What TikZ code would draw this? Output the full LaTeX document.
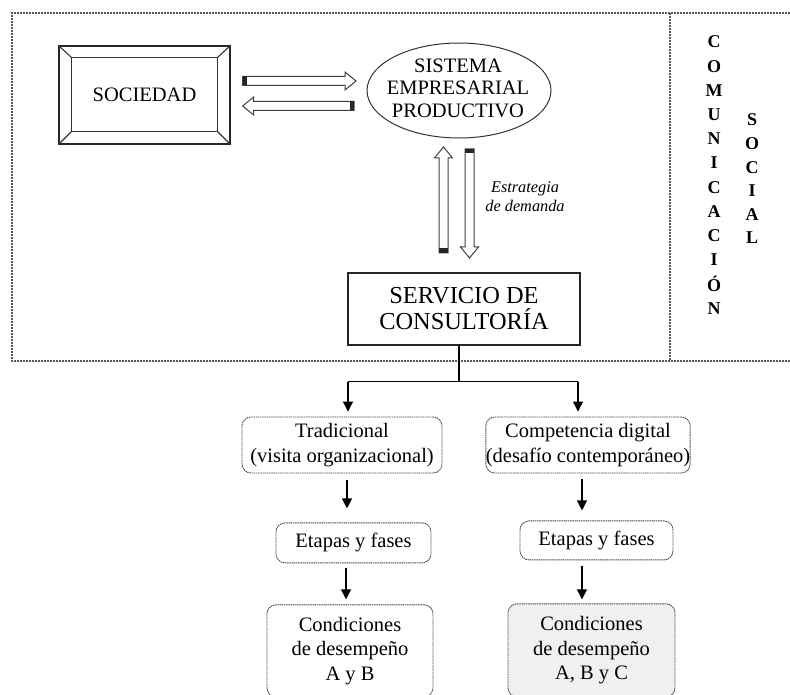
\documentclass[tikz,border=0pt]{standalone}
\usepackage{fontspec}
\setmainfont{Liberation Serif}
\usetikzlibrary{shapes,arrows.meta,positioning,calc}

% hollow block arrow with a black tail cap: #1 tail, #2 tip
\newcommand{\blockarrow}[2]{%
  \coordinate (hb) at ($(#2)!11pt!(#1)$);
  \coordinate (tc) at ($(#1)!4.5pt!(#2)$);
  \draw[blockline] ($(#1)!4.5pt!90:(#2)$) -- ($(hb)!4.5pt!90:(#2)$) -- ($(hb)!9pt!90:(#2)$) -- (#2)
    -- ($(hb)!9pt!-90:(#2)$) -- ($(hb)!4.5pt!-90:(#2)$) -- ($(#1)!4.5pt!-90:(#2)$) -- cycle;
  \fill[black!85] ($(#1)!4.5pt!90:(#2)$) -- ($(tc)!4.5pt!90:(#2)$) -- ($(tc)!4.5pt!-90:(#2)$) -- ($(#1)!4.5pt!-90:(#2)$) -- cycle;
}

\begin{document}
\begin{tikzpicture}[x=1pt, y=-1pt]

	\tikzset{
	frameline/.style={draw=black!65, line width=1.1pt, dash pattern=on 2pt off 1pt},
	plainbox/.style={draw=black!85, line width=1.3pt, align=center, inner sep=0pt},
	bevel/.style={draw=black!80, line width=1.1pt},
	blockline/.style={draw=black!75, line width=1pt, fill=white, line join=miter},
	dotbox/.style={draw=black!70, line width=0.9pt, dash pattern=on 1.5pt off 0.7pt, rounded corners=9pt, align=center, inner sep=0pt, font=\fontsize{20.5}{24.5}\selectfont},
	vletter/.style={font=\fontsize{18}{18}\selectfont\bfseries, inner sep=0pt},
	tri/.style={line width=1.1pt, -{Triangle[length=10pt,width=10pt]}}
	}

	\useasboundingbox (0,0) rectangle (790,695);

	% Frame
	\draw[frameline] (790,13) -- (12,13) -- (12,361) -- (790,361);
	\draw[frameline] (670,13) -- (670,361);

	% Nodes
	\node[plainbox, minimum width=171pt, minimum height=98pt, font=\fontsize{20.5}{24}\selectfont] (sociedad) at (144.5,95) {SOCIEDAD};
	\draw[bevel] ($(sociedad.north west)+(13,12)$) rectangle ($(sociedad.south east)+(-13,-13)$);
	\foreach \c/\dx/\dy in {north west/13/12, north east/-13/12, south east/-13/-13, south west/13/-13}
		\draw[bevel] (sociedad.\c) -- ++(\dx,\dy);

	\node[draw=black!80, line width=1pt, ellipse, minimum width=184pt, minimum height=95pt, inner sep=0pt] (sistema) at (459,90.5) {};
	\node[align=center, font=\fontsize{20.5}{22.5}\selectfont] (sistema_txt) at (458,88) {SISTEMA\\EMPRESARIAL\\PRODUCTIVO};

	\node[align=center, font=\itshape\fontsize{16.3}{19}\selectfont] (estrategia) at (525,197) {Estrategia\\de demanda};

	\node[plainbox, minimum width=232pt, minimum height=72pt, font=\fontsize{24.4}{26}\selectfont] (servicio) at (464,309) {SERVICIO DE\\CONSULTORÍA};

	\node[dotbox, minimum width=200pt, minimum height=56pt] (trad) at (342,445) {Tradicional\\(visita organizacional)};
	\node[dotbox, minimum width=202pt, minimum height=56pt] (comp) at (588,445) {Competencia digital\\(desafío contemporáneo)};

	\node[dotbox, minimum width=155pt, minimum height=40pt, below=49pt of trad, xshift=11.5pt] (etapas_left) {Etapas y fases};
	\node[dotbox, minimum width=153pt, minimum height=39pt, below=47pt of comp, xshift=8.5pt] (etapas_right) {Etapas y fases};

	\node[dotbox, minimum width=166pt, minimum height=92pt, below=41pt of etapas_left, xshift=-3.5pt] (cond_left) {Condiciones\\de desempeño\\A y B};
	\node[dotbox, fill=black!6, minimum width=167pt, minimum height=93pt, below=43pt of etapas_right, xshift=-5pt] (cond_right) {Condiciones\\de desempeño\\A, B y C};

	\foreach \l [count=\i from 0] in {C,O,M,U,N,I,C,A,C,I,Ó,N}
		\node[vletter] (com\i) at (714,42+24.2*\i) {\l};
	\foreach \l [count=\i from 0] in {S,O,C,I,A,L}
		\node[vletter] (soc\i) at (752,120+23.6*\i) {\l};

	% Block arrows
	\coordinate (ha1_tail) at ($(sociedad.east)+(12,-14)$);
	\coordinate (ha1_tip) at (356,81);
	\coordinate (ha2_tail) at (354,106);
	\coordinate (ha2_tip) at ($(sociedad.east)+(12,11)$);
	\coordinate (va1_tail) at (443.5,253);
	\coordinate (va1_tip) at (443.5,147);
	\coordinate (va2_tail) at (469.5,149);
	\coordinate (va2_tip) at (469.5,258);
	\blockarrow{ha1_tail}{ha1_tip}
	\blockarrow{ha2_tail}{ha2_tip}
	\blockarrow{va1_tail}{va1_tip}
	\blockarrow{va2_tail}{va2_tip}

	% Lines
	\coordinate (split) at ($(servicio.south)+(-5,36)$);
	\coordinate (br_left) at ($(split)+(-111,0)$);
	\coordinate (br_right) at ($(split)+(119,0)$);
	\draw[line width=1.1pt] (split |- servicio.south) -- (split);
	\draw[line width=1.1pt] (br_left) -- (br_right);
	\draw[tri, shorten >=5pt] (br_left) -- (br_left |- trad.north);
	\draw[tri, shorten >=5pt] (br_right) -- (br_right |- comp.north);

	\coordinate (al1) at ($(trad.south)+(5,0)$);
	\coordinate (al2) at ($(etapas_left.south)+(-7.5,0)$);
	\coordinate (ar1) at ($(comp.south)+(-6,0)$);
	\coordinate (ar2) at ($(etapas_right.south)+(-14.5,0)$);
	\draw[tri, shorten <=7pt, shorten >=14pt] (al1) -- (al1 |- etapas_left.north);
	\draw[tri, shorten <=5pt, shorten >=5pt] (al2) -- (al2 |- cond_left.north);
	\draw[tri, shorten <=6pt, shorten >=10pt] (ar1) -- (ar1 |- etapas_right.north);
	\draw[tri, shorten <=6pt, shorten >=4pt] (ar2) -- (ar2 |- cond_right.north);

\end{tikzpicture}
\end{document}
